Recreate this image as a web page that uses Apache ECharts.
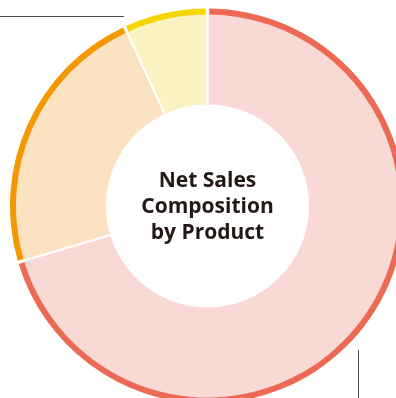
<!DOCTYPE html>
<html>
<head>
<meta charset="utf-8">
<script src="https://cdn.jsdelivr.net/npm/echarts@6/dist/echarts.min.js"></script>
<style>
  html, body { margin: 0; padding: 0; background: #ffffff; }
  #chart { width: 396px; height: 398px; }
</style>
</head>
<body>
<div id="chart"></div>
<script>
// Net sales share by product (%), clockwise from 12 o'clock
const products = ['Product A', 'Product B', 'Product C'];
const shares = [70.4, 22.7, 6.9];
const fillColors = ['#F9D9D5', '#FBE3C2', '#FAF3C1'];
const rimColors = ['#EC6A53', '#F39800', '#F6D400'];
const centerTitle = 'Net Sales\nComposition\nby Product';

const center = [207.5, 206];

const fillData = products.map((name, i) => ({
  name, value: shares[i], itemStyle: { color: fillColors[i] }
}));
const rimData = products.map((name, i) => ({
  name, value: shares[i], itemStyle: { color: rimColors[i] }
}));

const chart = echarts.init(document.getElementById('chart'), null, { renderer: 'canvas' });
chart.setOption({
  animation: false,
  series: [
    {
      type: 'pie',
      center: center,
      radius: [100.5, 193],
      startAngle: 90,
      clockwise: true,
      silent: true,
      label: { show: false },
      labelLine: { show: false },
      itemStyle: { borderColor: '#ffffff', borderWidth: 2 },
      data: fillData,
      z: 1
    },
    {
      type: 'pie',
      center: center,
      radius: [191.5, 197.5],
      startAngle: 90,
      clockwise: true,
      padAngle: 1.0,
      silent: true,
      label: { show: false },
      labelLine: { show: false },
      data: rimData,
      z: 2
    }
  ],
  graphic: [
    {
      type: 'text',
      x: center[0],
      y: center[1] + 1.5,
      style: {
        text: centerTitle,
        align: 'center',
        verticalAlign: 'middle',
        font: 'bold 21px "Open Sans", sans-serif',
        lineHeight: 26,
        fill: '#231815'
      }
    },
    {
      type: 'line',
      shape: { x1: 0, y1: 16.5, x2: 124, y2: 16.5 },
      style: { stroke: '#4d4d4d', lineWidth: 1 }
    },
    {
      type: 'line',
      shape: { x1: 358.5, y1: 350, x2: 358.5, y2: 398 },
      style: { stroke: '#4d4d4d', lineWidth: 1 }
    }
  ]
});
</script>
</body>
</html>
